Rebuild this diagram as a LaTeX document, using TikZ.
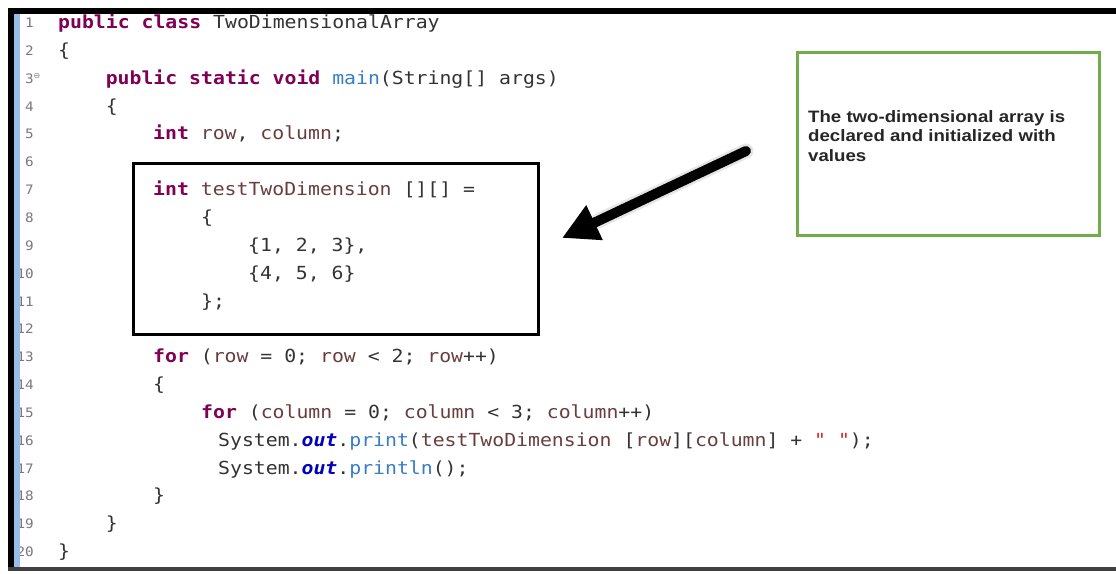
\documentclass[tikz,border=0pt]{standalone}
\usepackage{fontspec}
\usetikzlibrary{arrows.meta,calc}
\newfontfamily\codefont[FakeStretch=1.1]{DejaVu Sans Mono}
\newfontfamily\notefont[FakeStretch=1.13]{Liberation Sans}
\newfontfamily\symfont{DejaVu Sans}
\definecolor{kwpurple}{RGB}{127,0,85}
\definecolor{varbrown}{RGB}{106,62,62}
\definecolor{callblue}{RGB}{55,125,200}
\definecolor{fieldblue}{RGB}{0,0,192}
\definecolor{strred}{RGB}{215,40,40}
\definecolor{numgray}{RGB}{120,120,120}
\definecolor{barblue}{RGB}{150,190,230}
\definecolor{notegreen}{RGB}{112,173,71}
\newcommand{\jkw}[1]{\textcolor{kwpurple}{\bfseries #1}}
\newcommand{\jvar}[1]{\textcolor{varbrown}{#1}}
\newcommand{\jcall}[1]{\textcolor{callblue}{#1}}
\newcommand{\jfld}[1]{\textcolor{fieldblue}{\bfseries\itshape #1}}
\newcommand{\jstr}[1]{\textcolor{strred}{#1}}

\begin{document}
\begin{tikzpicture}[x=1pt,y=-1pt]

\tikzstyle{codeline} = [anchor=west, inner sep=0, text=black!80,
font=\codefont\fontsize{18}{18}\selectfont, text height=13, text depth=4]
\tikzstyle{lineno} = [anchor=east, inner sep=0, text=numgray,
font=\codefont\fontsize{13}{13}\selectfont, text height=10, text depth=3]
\tikzstyle{codebox} = [draw, line width=3, draw=black, inner sep=0,
minimum width=405, minimum height=171]
\tikzstyle{notebox} = [draw, line width=3, draw=notegreen, inner sep=0,
minimum width=302, minimum height=183]
\tikzstyle{notetext} = [anchor=north west, inner sep=0, align=left, text=black!85,
font=\notefont\bfseries\fontsize{16.5}{19.5}\selectfont]

\useasboundingbox (0,0) rectangle (1116,573);
\fill[white] (0,0) rectangle (1116,573);

% line numbers, the blue ruler is drawn over them later
\foreach \n in {1,...,20}
  \node[lineno] (ln\n) at (34,{24+(\n-1)*27.85}) {\n};
\node[text=numgray, inner sep=0, font=\symfont\fontsize{8}{8}\selectfont] (fold) at (37,76) {⊖};

% the class
\node[codeline] (c1) at (58,24) {\jkw{public} \jkw{class} TwoDimensionalArray};
\node[codeline] (c2) at (58,51.85) {\{};
\node[codeline] (c3) at (105.6,79.7) {\jkw{public} \jkw{static} \jkw{void} \jcall{main}(String[] args)};
\node[codeline] (c4) at (105.6,107.55) {\{};
\node[codeline] (c5) at (153,135.4) {\jkw{int} \jvar{row}, \jvar{column};};

% declaration of the array
\node[codeline] (c7) at (153,191.1) {\jkw{int} \jvar{testTwoDimension} [][] =};
\node[codeline] (c8) at (201,218.95) {\{};
\node[codeline] (c9) at (248,246.8) {\{1, 2, 3\},};
\node[codeline] (c10) at (248,274.65) {\{4, 5, 6\}};
\node[codeline] (c11) at (201,302.5) {\};};

% the loops
\node[codeline] (c13) at (153,358.2) {\jkw{for} (\jvar{row} = 0; \jvar{row} < 2; \jvar{row}++)};
\node[codeline] (c14) at (153,386.05) {\{};
\node[codeline] (c15) at (201,413.9) {\jkw{for} (\jvar{column} = 0; \jvar{column} < 3; \jvar{column}++)};
\node[codeline] (c16) at (218,441.75) {System.\jfld{out}.\jcall{print}(\jvar{testTwoDimension} [\jvar{row}][\jvar{column}] + \jstr{" "});};
\node[codeline] (c17) at (218,469.6) {System.\jfld{out}.\jcall{println}();};
\node[codeline] (c18) at (153,497.45) {\}};
\node[codeline] (c19) at (105.6,525.3) {\}};
\node[codeline] (c20) at (58,553.15) {\}};

% editor frame
\fill[barblue] (14,14) rectangle (20,567);
\fill[black] (8,8) rectangle (1116,14);
\fill[black] (8,8) rectangle (14,569);
\fill[black!75] (8,567) rectangle (1116,571);

% box round the declaration
\node[codebox] (decl) at (335.5,248.5) {};

% note
\node[notebox] (note) at (948,143.5) {};
\node[notetext] (notetxt) at (808,110) {The two-dimensional array is\\declared and initialized with\\values};

% arrow from the note to the declaration
\coordinate (tail) at (746,151);
\coordinate (tip) at (562,238);
\draw[line width=15, black!20, line cap=round, opacity=0.5] (tail) -- ($(tip)!0.2!(tail)$);
\draw[line width=10, line cap=round, -{Triangle[length=36,width=36]}] (tail) -- (tip);

\end{tikzpicture}
\end{document}
